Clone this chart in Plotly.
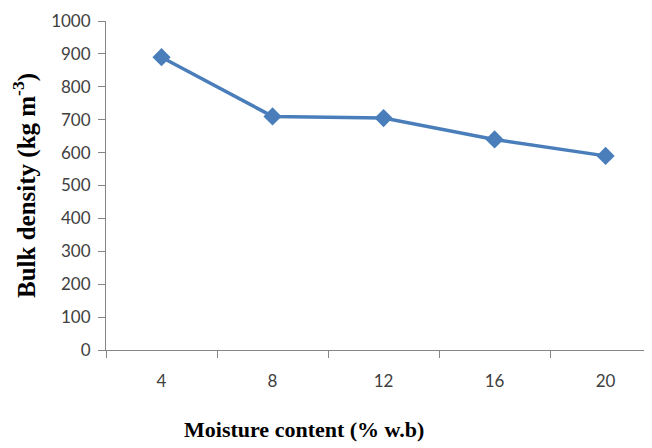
import plotly.graph_objects as go

moisture = ["4", "8", "12", "16", "20"]
bulk_density = [890, 710, 705, 640, 590]
y_ticks = list(range(0, 1001, 100))

fig = go.Figure()
fig.add_trace(go.Scatter(
    x=moisture, y=bulk_density, mode="lines+markers",
    line=dict(color="#4a7ebb", width=3.5),
    marker=dict(symbol="diamond", size=14, color="#4a7ebb"),
    showlegend=False, cliponaxis=False,
))

axis_col = "#868686"
fig.update_layout(
    width=652, height=448,
    margin=dict(l=98, r=0, t=13, b=106),
    paper_bgcolor="white", plot_bgcolor="white",
    font=dict(family="Lato", size=17, color="#404040"),
    xaxis=dict(
        type="category", range=[-0.5, 4.49], tickson="boundaries",
        showline=True, linecolor=axis_col, linewidth=1,
        ticks="outside", ticklen=7, tickcolor=axis_col,
        showgrid=False, zeroline=False, ticklabelstandoff=16,
        tickfont=dict(family="Lato", size=17, color="#404040"),
    ),
    yaxis=dict(
        range=[0, 1000], tickvals=y_ticks,
        showline=True, linecolor=axis_col, linewidth=1,
        ticks="outside", ticklen=7, tickcolor=axis_col,
        showgrid=False, zeroline=False, ticklabelstandoff=4,
        tickfont=dict(family="Lato", size=17, color="#404040"),
        title=dict(text="<b>Bulk density (kg m<sup>-3</sup>)</b>",
                   font=dict(family="Liberation Serif", size=25, color="black"),
                   standoff=10),
    ),
    annotations=[dict(
        text="<b>Moisture content (% w.b)</b>", xref="paper", yref="paper",
        x=0.357, y=-0.243, xanchor="center", yanchor="middle", showarrow=False,
        font=dict(family="Liberation Serif", size=22, color="black"),
    )],
)
fig.write_html("out.html")
